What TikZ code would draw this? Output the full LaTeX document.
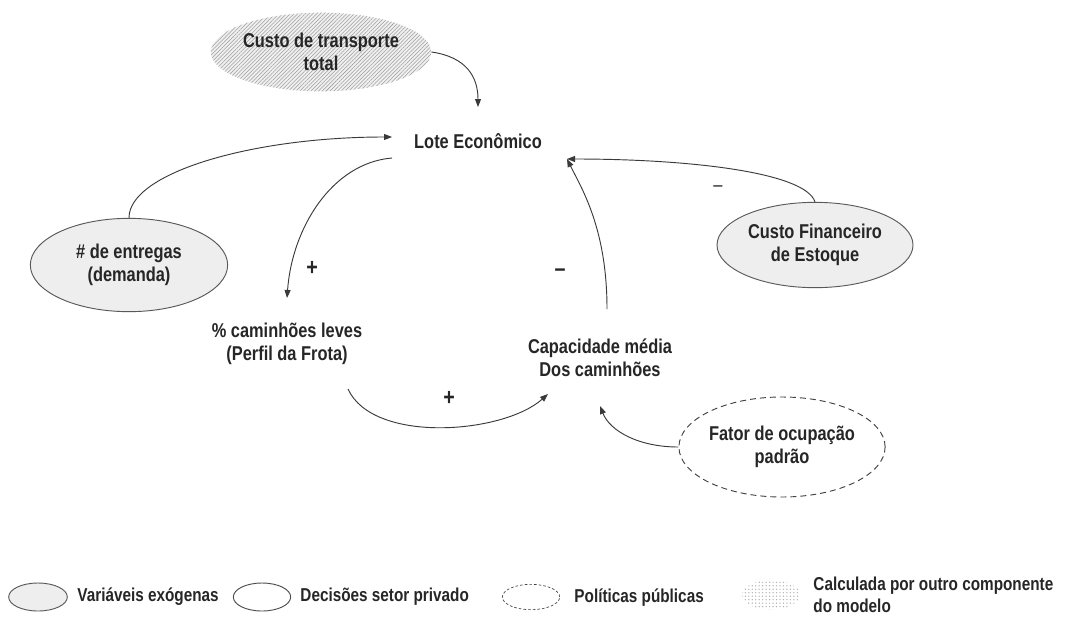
\documentclass[tikz,border=0pt]{standalone}
\usepackage{fontspec}
\setmainfont{Liberation Sans}[FakeStretch=0.82]
\usetikzlibrary{arrows.meta, calc, shapes.geometric, patterns.meta}
\definecolor{linegray}{HTML}{3A3A3A}
\definecolor{exofill}{HTML}{EEEEEE}

\begin{document}
\begin{tikzpicture}[x=0.75pt,y=-0.75pt,->,>={Triangle[length=6pt,width=4.5pt]},draw=linegray,line width=0.7pt,font=\bfseries\fontsize{15}{17.5}\selectfont]
    \tikzstyle{var}=[ellipse, inner sep=0pt, align=center, text=black!85]
    \tikzstyle{exo var}=[var, draw=black!65, fill=exofill]
    \tikzstyle{private var}=[var, draw=black!70]
    \tikzstyle{policy var}=[var, draw=black!75, dash pattern=on 4.5pt off 3pt]
    \tikzstyle{calc var}=[var, preaction={fill=black!6}, pattern={Lines[angle=45,distance=2pt,line width=0.4pt]}, pattern color=black!38]
    \tikzstyle{dots var}=[var, pattern={Dots[radius=0.55pt,distance=2.6pt]}, pattern color=black!30]
    \tikzstyle{plain}=[align=center, inner sep=0pt, text=black!85]
    \tikzstyle{sign}=[inner sep=0pt, text=black!85, font=\bfseries\fontsize{18}{18}\selectfont]
    \tikzstyle{legtext}=[anchor=west, align=left, inner sep=0pt, text=black!85, font=\bfseries\fontsize{14}{16.5}\selectfont]

    \useasboundingbox (0,0) rectangle (1069,617);

    % Draw the variables
    \node[calc var, minimum width=140pt, minimum height=59pt] (transp) at (321,52) {Custo de transporte\\total};
    \node[plain] (lote) at (478,141) {Lote Econômico};
    \node[exo var, minimum width=148pt, minimum height=70pt] (entregas) at (129,265) {\# de entregas\\(demanda)};
    \node[exo var, minimum width=147pt, minimum height=64pt] (financ) at (815,245) {Custo Financeiro\\de Estoque};
    \node[plain] (frota) at (287,344) {\% caminhões leves\\(Perfil da Frota)};
    \node[plain] (capac) at (600,358) {Capacidade média\\Dos caminhões};
    \node[policy var, minimum width=148pt, minimum height=75pt] (fator) at (782,447) {Fator de ocupação\\padrão};

    % Draw the polarity signs
    \node[sign] (plus-1) at (312,268) {+};
    \node[sign] (plus-2) at (449,398) {+};
    \node[sign] (minus-1) at (560,273) {--};
    \node[sign, font=\fontsize{15}{15}\selectfont] (minus-2) at (718,189) {--};

    % Draw the links
    \draw (transp.east) .. controls +(35,5) and +(0,-30) .. ($(lote)+(0,-34)$);
    \draw (entregas.north) .. controls +(0,-45) and +(-140,0) .. ($(lote)+(-86,-4)$);
    \draw ($(lote)+(-86,17)$) .. controls +(-60,5) and +(5,-70) .. ($(frota)+(0,-46)$);
    \draw ($(frota)+(61,45)$) .. controls +(25,55) and +(-45,40) .. ($(capac)+(-52,36)$);
    \draw ($(capac)+(7,-49)$) .. controls +(0,-80) and +(15,30) .. ($(lote)+(89,18)$);
    \draw (financ.north) .. controls +(-10,-30) and +(120,0) .. ($(lote)+(89,18)$);
    \draw (fator.west) .. controls +(-40,0) and +(10,25) .. ($(capac)+(0,48)$);

    % Draw the legend
    \node[exo var, minimum width=44pt, minimum height=21pt] (leg-1) at (38,597) {};
    \node[legtext] (leg-text-1) at (77,597) {Variáveis exógenas};
    \node[private var, minimum width=43pt, minimum height=21pt] (leg-2) at (262,597) {};
    \node[legtext] (leg-text-2) at (300,597) {Decisões setor privado};
    \node[policy var, dash pattern=on 2pt off 1.5pt, line width=0.5pt, minimum width=43pt, minimum height=19pt] (leg-3) at (531,597) {};
    \node[legtext] (leg-text-3) at (574,598) {Políticas públicas};
    \node[dots var, minimum width=44pt, minimum height=22pt] (leg-4) at (771,595) {};
    \node[legtext] (leg-text-4) at (813,595) {Calculada por outro componente\\do modelo};
\end{tikzpicture}
\end{document}
